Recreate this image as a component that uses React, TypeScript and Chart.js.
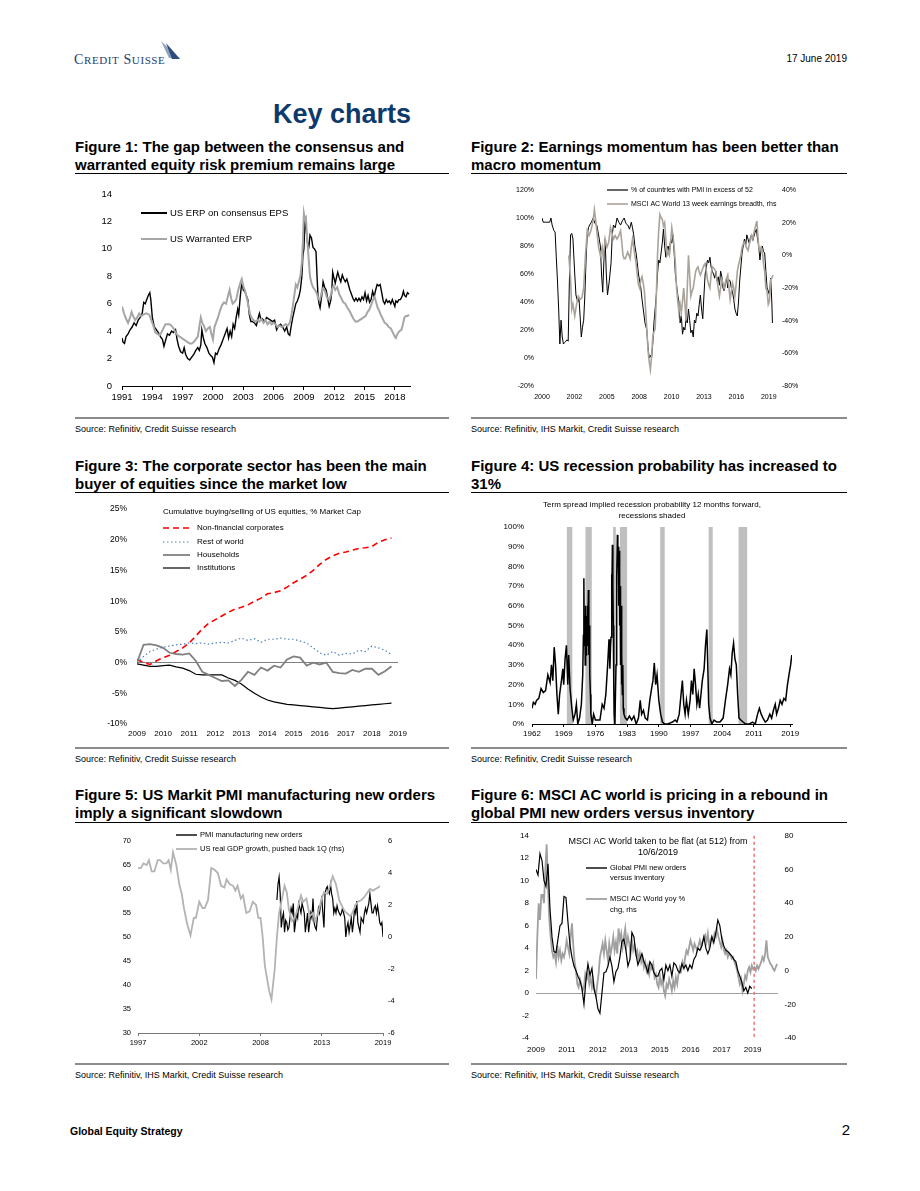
import React, { useEffect, useRef } from "react";
import { Chart, registerables } from "chart.js";

Chart.register(...registerables);

const FONT = "'Liberation Sans', Arial, Helvetica, sans-serif";
type Pt = [number, number];

// ---------------- Figure 1 ----------------
const fig1TickValues = [1991, 1994, 1997, 2000, 2003, 2006, 2009, 2012, 2015, 2018];
const fig1TickLabels = ["1991", "1994", "1997", "2000", "2003", "2006", "2009", "2012", "2015", "2018"];
const fig1Consensus: Pt[] = [
  [1991.0, 3.5], [1991.1, 3.2], [1991.25, 3.1], [1991.4, 3.6], [1991.6, 3.8], [1991.8, 4.1], [1992.0, 4.3], [1992.2, 4.6], [1992.4, 4.4], [1992.6, 4.8], [1992.8, 5.0], [1993.0, 5.3], [1993.15, 6.1], [1993.3, 6.0], [1993.45, 6.3], [1993.6, 6.6], [1993.75, 6.8], [1993.85, 6.3], [1994.0, 5.0], [1994.2, 4.3], [1994.4, 4.1], [1994.6, 3.9], [1994.8, 3.6], [1995.0, 3.4], [1995.15, 2.9], [1995.3, 3.3], [1995.5, 3.8], [1995.7, 3.7], [1995.9, 4.0], [1996.1, 3.9], [1996.3, 4.1], [1996.45, 3.4], [1996.6, 2.9], [1996.8, 2.5], [1997.0, 2.4], [1997.15, 2.8], [1997.3, 2.3], [1997.5, 2.0], [1997.7, 1.9], [1997.9, 2.1], [1998.1, 2.3], [1998.3, 2.6], [1998.5, 2.8], [1998.65, 2.6], [1998.8, 3.0], [1998.9, 4.1], [1999.05, 3.5], [1999.2, 3.1], [1999.4, 2.8], [1999.6, 2.4], [1999.8, 2.2], [1999.95, 2.1], [2000.1, 1.7], [2000.25, 2.4], [2000.4, 2.3], [2000.6, 2.7], [2000.8, 3.0], [2001.0, 3.4], [2001.2, 3.8], [2001.4, 4.2], [2001.55, 3.5], [2001.7, 4.0], [2001.85, 3.6], [2002.0, 4.5], [2002.15, 4.2], [2002.3, 5.0], [2002.45, 5.6], [2002.55, 5.2], [2002.7, 6.5], [2002.8, 7.2], [2002.9, 7.5], [2003.0, 7.0], [2003.15, 6.9], [2003.3, 6.6], [2003.45, 6.3], [2003.6, 5.2], [2003.75, 4.7], [2003.9, 4.7], [2004.1, 4.6], [2004.3, 4.4], [2004.45, 4.9], [2004.6, 5.3], [2004.75, 4.8], [2004.9, 4.9], [2005.1, 4.7], [2005.3, 5.0], [2005.5, 4.9], [2005.7, 4.8], [2005.9, 4.7], [2006.1, 4.8], [2006.3, 4.1], [2006.5, 4.4], [2006.7, 4.5], [2006.9, 4.3], [2007.1, 4.0], [2007.3, 4.3], [2007.45, 3.8], [2007.6, 3.7], [2007.75, 4.4], [2007.9, 5.0], [2008.05, 5.5], [2008.2, 6.0], [2008.35, 6.2], [2008.5, 6.5], [2008.65, 7.0], [2008.8, 8.0], [2008.9, 9.5], [2009.0, 10.0], [2009.1, 11.9], [2009.2, 11.6], [2009.35, 10.5], [2009.5, 10.2], [2009.6, 11.0], [2009.75, 10.8], [2009.9, 10.1], [2010.05, 10.0], [2010.2, 9.8], [2010.3, 8.0], [2010.4, 6.5], [2010.5, 6.0], [2010.6, 5.7], [2010.75, 6.5], [2010.9, 7.6], [2011.05, 7.2], [2011.2, 7.0], [2011.35, 6.4], [2011.5, 5.8], [2011.65, 6.2], [2011.75, 6.8], [2011.85, 8.3], [2012.0, 7.8], [2012.1, 7.5], [2012.25, 8.0], [2012.35, 8.3], [2012.5, 7.9], [2012.65, 7.6], [2012.8, 8.1], [2012.95, 7.8], [2013.1, 7.6], [2013.25, 7.8], [2013.4, 7.4], [2013.55, 7.0], [2013.7, 6.7], [2013.85, 6.4], [2014.0, 6.2], [2014.15, 6.4], [2014.3, 6.2], [2014.45, 6.4], [2014.6, 6.2], [2014.75, 6.5], [2014.9, 6.3], [2015.05, 6.8], [2015.2, 6.2], [2015.35, 6.6], [2015.5, 6.1], [2015.65, 6.3], [2015.8, 6.9], [2015.95, 6.5], [2016.1, 7.0], [2016.25, 7.4], [2016.4, 7.3], [2016.55, 7.4], [2016.7, 6.8], [2016.85, 6.2], [2017.0, 6.0], [2017.15, 6.3], [2017.3, 6.1], [2017.45, 6.2], [2017.6, 6.0], [2017.75, 6.3], [2017.9, 6.0], [2018.0, 5.8], [2018.1, 6.2], [2018.25, 6.1], [2018.4, 6.3], [2018.55, 6.3], [2018.7, 6.5], [2018.85, 6.9], [2018.95, 6.6], [2019.1, 6.5], [2019.25, 6.8], [2019.4, 6.7],
];
const fig1Warranted: Pt[] = [
  [1991.0, 5.8], [1991.2, 5.3], [1991.4, 4.9], [1991.6, 4.6], [1991.8, 5.0], [1991.95, 5.4], [1992.1, 5.1], [1992.3, 4.8], [1992.5, 5.0], [1992.7, 5.3], [1992.9, 5.1], [1993.1, 5.2], [1993.4, 5.3], [1993.7, 5.2], [1993.9, 4.8], [1994.1, 4.4], [1994.3, 3.9], [1994.5, 3.8], [1994.7, 3.7], [1994.9, 3.9], [1995.1, 4.2], [1995.3, 4.5], [1995.5, 4.5], [1995.7, 4.5], [1995.9, 4.4], [1996.1, 4.2], [1996.3, 3.9], [1996.5, 3.7], [1996.7, 3.6], [1996.9, 3.5], [1997.1, 3.4], [1997.3, 3.3], [1997.5, 3.2], [1997.7, 3.1], [1997.9, 3.1], [1998.1, 3.2], [1998.3, 3.4], [1998.5, 3.6], [1998.65, 4.3], [1998.8, 5.0], [1998.95, 4.6], [1999.1, 4.4], [1999.3, 4.0], [1999.5, 4.2], [1999.7, 4.3], [1999.85, 3.8], [2000.0, 3.4], [2000.15, 4.3], [2000.3, 4.6], [2000.5, 5.0], [2000.7, 5.5], [2000.9, 5.9], [2001.1, 6.1], [2001.3, 6.0], [2001.5, 6.6], [2001.65, 7.0], [2001.8, 6.4], [2001.95, 6.0], [2002.1, 6.1], [2002.3, 6.3], [2002.5, 7.0], [2002.7, 7.5], [2002.85, 7.8], [2003.0, 7.3], [2003.15, 7.0], [2003.3, 6.6], [2003.5, 5.9], [2003.65, 5.3], [2003.8, 5.0], [2004.0, 4.8], [2004.2, 4.7], [2004.4, 4.8], [2004.6, 4.7], [2004.8, 4.9], [2005.0, 4.6], [2005.2, 4.8], [2005.4, 4.5], [2005.6, 4.7], [2005.8, 4.5], [2006.0, 4.6], [2006.2, 4.5], [2006.4, 4.3], [2006.6, 4.4], [2006.8, 4.3], [2007.0, 4.4], [2007.2, 4.5], [2007.4, 4.4], [2007.6, 4.6], [2007.75, 5.1], [2007.9, 5.8], [2008.05, 6.6], [2008.2, 7.4], [2008.35, 7.2], [2008.5, 7.6], [2008.65, 8.0], [2008.8, 9.0], [2008.9, 10.5], [2009.0, 12.6], [2009.1, 12.2], [2009.2, 12.3], [2009.3, 11.0], [2009.45, 9.5], [2009.6, 8.0], [2009.75, 7.5], [2009.9, 7.2], [2010.1, 7.0], [2010.3, 6.7], [2010.45, 6.3], [2010.6, 6.3], [2010.75, 6.8], [2010.9, 7.1], [2011.1, 6.9], [2011.3, 6.4], [2011.5, 6.3], [2011.65, 6.6], [2011.8, 7.1], [2011.95, 7.3], [2012.1, 7.0], [2012.3, 7.2], [2012.5, 6.7], [2012.7, 6.4], [2012.9, 6.1], [2013.1, 6.0], [2013.3, 5.7], [2013.5, 5.5], [2013.7, 5.2], [2013.9, 4.9], [2014.1, 4.7], [2014.3, 4.7], [2014.5, 4.8], [2014.7, 4.9], [2014.9, 5.0], [2015.1, 5.1], [2015.3, 5.4], [2015.5, 5.6], [2015.7, 6.0], [2015.85, 6.3], [2016.0, 6.5], [2016.15, 6.1], [2016.3, 5.7], [2016.45, 5.5], [2016.6, 5.2], [2016.8, 4.9], [2017.0, 4.6], [2017.2, 4.5], [2017.4, 4.3], [2017.6, 4.2], [2017.8, 3.9], [2018.0, 3.6], [2018.1, 3.5], [2018.25, 3.8], [2018.45, 4.0], [2018.65, 4.1], [2018.8, 4.5], [2018.95, 5.0], [2019.1, 5.1], [2019.25, 5.1], [2019.4, 5.2],
];

// ---------------- Figure 2 ----------------
const fig2TickValues = [2000, 2002.72, 2005.44, 2008.16, 2010.88, 2013.6, 2016.32, 2019.04];
const fig2TickLabels = ["2000", "2002", "2005", "2008", "2010", "2013", "2016", "2019"];
const fig2PmiShare: Pt[] = [
  [2000.0, 100], [2000.1, 97], [2000.3, 97], [2000.5, 97], [2000.65, 97], [2000.75, 100], [2000.85, 95], [2001.0, 91], [2001.1, 90], [2001.2, 72], [2001.3, 55], [2001.4, 35], [2001.5, 10], [2001.6, 27], [2001.7, 15], [2001.8, 10], [2001.9, 11], [2002.0, 12], [2002.1, 13], [2002.2, 12], [2002.3, 55], [2002.4, 88], [2002.5, 89], [2002.6, 85], [2002.75, 60], [2002.85, 45], [2003.0, 40], [2003.1, 43], [2003.2, 30], [2003.3, 15], [2003.4, 22], [2003.5, 27], [2003.6, 45], [2003.7, 70], [2003.8, 88], [2003.9, 93], [2004.0, 95], [2004.15, 97], [2004.3, 100], [2004.45, 96], [2004.6, 95], [2004.75, 88], [2004.9, 80], [2005.0, 60], [2005.1, 47], [2005.2, 70], [2005.3, 85], [2005.4, 60], [2005.5, 45], [2005.65, 55], [2005.8, 68], [2005.9, 88], [2006.0, 95], [2006.15, 93], [2006.3, 100], [2006.45, 97], [2006.6, 95], [2006.75, 98], [2006.9, 100], [2007.05, 96], [2007.2, 95], [2007.35, 92], [2007.5, 97], [2007.6, 93], [2007.7, 88], [2007.8, 80], [2007.9, 75], [2008.0, 68], [2008.1, 60], [2008.2, 55], [2008.3, 50], [2008.4, 42], [2008.5, 35], [2008.65, 25], [2008.8, 20], [2008.9, 8], [2009.0, 0], [2009.1, 2], [2009.2, 0], [2009.3, 10], [2009.4, 25], [2009.5, 35], [2009.6, 45], [2009.7, 60], [2009.8, 70], [2009.9, 68], [2010.0, 75], [2010.1, 82], [2010.2, 92], [2010.3, 80], [2010.4, 72], [2010.5, 78], [2010.6, 80], [2010.7, 75], [2010.8, 85], [2010.9, 82], [2011.0, 88], [2011.1, 75], [2011.2, 60], [2011.3, 52], [2011.4, 45], [2011.5, 40], [2011.6, 25], [2011.7, 30], [2011.8, 17], [2011.9, 22], [2012.0, 20], [2012.1, 28], [2012.2, 25], [2012.3, 35], [2012.4, 27], [2012.5, 18], [2012.6, 20], [2012.7, 15], [2012.8, 27], [2012.9, 25], [2013.0, 32], [2013.1, 30], [2013.2, 38], [2013.3, 45], [2013.4, 35], [2013.5, 28], [2013.6, 45], [2013.7, 60], [2013.8, 65], [2013.9, 70], [2014.0, 68], [2014.1, 72], [2014.2, 65], [2014.3, 62], [2014.4, 60], [2014.5, 57], [2014.6, 62], [2014.7, 55], [2014.8, 58], [2014.9, 52], [2015.0, 62], [2015.1, 58], [2015.2, 50], [2015.3, 48], [2015.4, 53], [2015.5, 57], [2015.6, 50], [2015.7, 56], [2015.8, 55], [2015.9, 50], [2016.0, 47], [2016.1, 42], [2016.2, 35], [2016.3, 32], [2016.4, 30], [2016.5, 40], [2016.6, 55], [2016.7, 65], [2016.8, 75], [2016.9, 80], [2017.0, 85], [2017.1, 80], [2017.2, 88], [2017.3, 85], [2017.4, 82], [2017.5, 86], [2017.6, 88], [2017.7, 84], [2017.8, 87], [2017.9, 90], [2018.0, 92], [2018.1, 85], [2018.2, 80], [2018.3, 70], [2018.4, 78], [2018.5, 80], [2018.6, 76], [2018.7, 75], [2018.8, 62], [2018.9, 50], [2019.0, 48], [2019.1, 45], [2019.2, 57], [2019.3, 40], [2019.35, 25],
];
const fig2Breadth: Pt[] = [
  [2002.25, 0], [2002.4, -15], [2002.5, -33], [2002.6, -30], [2002.75, -37], [2002.9, -30], [2003.05, -25], [2003.2, -27], [2003.35, -26], [2003.5, -20], [2003.65, 0], [2003.8, 15], [2003.95, 12], [2004.1, 15], [2004.2, 18], [2004.3, 22], [2004.4, 28], [2004.5, 22], [2004.6, 15], [2004.75, 5], [2004.9, 0], [2005.05, 5], [2005.15, -2], [2005.3, 10], [2005.45, 5], [2005.6, 8], [2005.75, 17], [2005.9, 13], [2006.0, 10], [2006.15, 12], [2006.3, 10], [2006.45, 12], [2006.6, 15], [2006.7, 8], [2006.8, 0], [2006.9, -2], [2007.0, -2], [2007.1, 0], [2007.2, 2], [2007.3, 0], [2007.4, -2], [2007.5, 5], [2007.6, 10], [2007.7, 5], [2007.8, 0], [2007.9, -5], [2008.0, -12], [2008.1, -18], [2008.2, -20], [2008.3, -15], [2008.4, -13], [2008.5, -17], [2008.6, -22], [2008.7, -33], [2008.8, -45], [2008.9, -58], [2009.0, -65], [2009.1, -70], [2009.2, -62], [2009.3, -50], [2009.4, -47], [2009.5, -45], [2009.6, -25], [2009.7, 0], [2009.8, 15], [2009.9, 25], [2010.0, 23], [2010.1, 22], [2010.2, 18], [2010.3, 20], [2010.4, 10], [2010.5, 0], [2010.6, 2], [2010.7, 0], [2010.8, 8], [2010.9, 17], [2011.0, 12], [2011.1, 5], [2011.2, -5], [2011.3, -20], [2011.4, -28], [2011.5, -35], [2011.6, -30], [2011.7, -35], [2011.8, -28], [2011.9, -20], [2012.0, -30], [2012.1, -40], [2012.2, -20], [2012.3, 0], [2012.4, -12], [2012.5, -25], [2012.6, -22], [2012.7, -20], [2012.8, -15], [2012.9, -10], [2013.0, -8], [2013.1, -7], [2013.2, -10], [2013.3, -12], [2013.4, -10], [2013.5, -8], [2013.6, -6], [2013.7, -5], [2013.8, -10], [2013.9, -15], [2014.0, -18], [2014.1, -20], [2014.2, -12], [2014.3, -7], [2014.45, -8], [2014.6, -10], [2014.75, -18], [2014.9, -25], [2015.0, -20], [2015.1, -15], [2015.2, -17], [2015.3, -20], [2015.45, -15], [2015.6, -12], [2015.7, -20], [2015.8, -27], [2015.9, -22], [2016.0, -17], [2016.1, -20], [2016.2, -25], [2016.3, -18], [2016.4, -10], [2016.5, -6], [2016.6, -3], [2016.7, 0], [2016.8, 5], [2016.9, 7], [2017.0, 8], [2017.15, 5], [2017.3, 3], [2017.45, 8], [2017.6, 12], [2017.7, 10], [2017.8, 14], [2017.9, 17], [2018.0, 20], [2018.05, 21], [2018.1, 15], [2018.2, 5], [2018.3, 3], [2018.4, 5], [2018.5, 3], [2018.6, -5], [2018.7, -10], [2018.8, -20], [2018.9, -22], [2019.0, -30], [2019.1, -28], [2019.2, -15], [2019.3, -14], [2019.4, -12],
];

// ---------------- Figure 3 (quarterly from 2009 Q1) ----------------
const fig3Start = 2009;
const fig3TickValues = [2009, 2010, 2011, 2012, 2013, 2014, 2015, 2016, 2017, 2018, 2019];
const fig3TickLabels = ["2009", "2010", "2011", "2012", "2013", "2014", "2015", "2016", "2017", "2018", "2019"];
const fig3Corporates = [0.5, 0, -0.3, 0.3, 0.8, 1.2, 1.8, 2.4, 3.2, 4.3, 5.5, 6.4, 7.0, 7.6, 8.2, 8.7, 9.0, 9.4, 10.0, 10.5, 11.2, 11.4, 11.7, 12.3, 13.0, 13.6, 14.2, 15.0, 16.0, 16.8, 17.4, 17.8, 18.0, 18.3, 18.6, 18.7, 18.9, 19.6, 20.0, 20.3];
const fig3RestOfWorld = [0, 1.0, 1.8, 2.2, 2.5, 2.7, 2.9, 3.0, 3.2, 3.1, 3.2, 3.0, 3.2, 3.3, 3.2, 3.6, 4.0, 3.6, 3.9, 3.3, 3.8, 3.8, 4.0, 3.8, 3.8, 3.5, 3.2, 2.4, 1.6, 1.2, 1.8, 1.2, 1.5, 1.4, 2.0, 1.8, 2.7, 2.4, 2.0, 1.3];
const fig3Households = [0, 2.9, 3.0, 2.8, 2.4, 1.6, 1.4, 1.3, 1.5, 0.3, -1.5, -2.0, -2.5, -3.0, -2.9, -3.8, -2.8, -1.5, -2.0, -0.8, -1.3, -0.5, -0.8, 0.5, 1.0, 0.8, -0.5, 0, -0.3, 0, -1.5, -1.7, -1.8, -1.2, -1.5, -1.0, -1.0, -2.0, -1.4, -0.6];
const fig3Institutions = [-0.2, -0.4, -0.6, -0.6, -0.5, -0.4, -0.7, -0.9, -1.3, -1.9, -2.0, -2.0, -2.0, -2.0, -2.5, -2.9, -3.5, -4.3, -5.0, -5.6, -6.1, -6.4, -6.6, -6.8, -6.9, -7.0, -7.1, -7.2, -7.3, -7.4, -7.5, -7.4, -7.3, -7.2, -7.1, -7.0, -6.9, -6.8, -6.7, -6.6];

// ---------------- Figure 4 ----------------
const fig4TickValues = [1962, 1969, 1976, 1983, 1990, 1997, 2004, 2011, 2019];
const fig4TickLabels = ["1962", "1969", "1976", "1983", "1990", "1997", "2004", "2011", "2019"];
const fig4Recessions: Pt[] = [[1969.7, 1970.9], [1973.8, 1975.2], [1979.9, 1980.5], [1981.4, 1983.0], [1990.3, 1991.3], [2001.0, 2001.9], [2007.6, 2009.5]];
const fig4Probability: Pt[] = [
  [1962.0, 8], [1962.3, 11], [1962.7, 10], [1963.0, 12], [1963.5, 13], [1964.0, 18], [1964.5, 16], [1965.0, 17], [1965.5, 25], [1966.0, 21], [1966.3, 30], [1966.6, 22], [1966.9, 39], [1967.2, 30], [1967.5, 15], [1967.8, 5], [1968.1, 15], [1968.5, 22], [1968.8, 28], [1969.0, 20], [1969.3, 33], [1969.6, 40], [1969.9, 20], [1970.1, 35], [1970.4, 18], [1970.8, 8], [1971.1, 2], [1971.5, 5], [1971.8, 10], [1972.1, 0], [1972.5, 3], [1972.9, 10], [1973.2, 25], [1973.35, 45], [1973.45, 74], [1973.55, 40], [1973.65, 55], [1973.75, 30], [1973.85, 60], [1973.95, 35], [1974.05, 55], [1974.15, 40], [1974.25, 60], [1974.35, 45], [1974.45, 68], [1974.55, 35], [1974.65, 50], [1974.75, 25], [1974.9, 15], [1975.0, 5], [1975.3, 0], [1975.6, 5], [1976.0, 2], [1976.5, 2], [1977.0, 2], [1977.5, 10], [1977.9, 8], [1978.3, 15], [1978.7, 30], [1979.0, 43], [1979.2, 28], [1979.35, 40], [1979.45, 44], [1979.55, 76], [1979.65, 60], [1979.75, 91], [1979.85, 70], [1979.95, 50], [1980.05, 20], [1980.15, 5], [1980.3, 0], [1980.55, 30], [1980.65, 60], [1980.75, 75], [1980.85, 96], [1980.95, 80], [1981.05, 90], [1981.15, 60], [1981.25, 88], [1981.35, 50], [1981.45, 70], [1981.55, 30], [1981.65, 60], [1981.75, 20], [1981.85, 35], [1981.95, 15], [1982.05, 30], [1982.15, 8], [1982.3, 5], [1982.6, 3], [1983.0, 2], [1983.5, 4], [1984.0, 2], [1984.5, 4], [1985.0, 0], [1985.5, 3], [1985.9, 12], [1986.2, 5], [1986.6, 7], [1987.0, 3], [1987.5, 2], [1988.0, 12], [1988.4, 18], [1988.7, 22], [1989.0, 31], [1989.3, 20], [1989.6, 25], [1990.0, 12], [1990.4, 5], [1990.8, 1], [1991.3, 0], [1992.0, 0], [1993.0, 1], [1993.6, 2], [1994.0, 1], [1994.5, 5], [1994.9, 15], [1995.2, 22], [1995.5, 10], [1995.8, 5], [1996.1, 12], [1996.5, 5], [1996.9, 12], [1997.2, 22], [1997.5, 15], [1997.8, 28], [1998.1, 20], [1998.4, 10], [1998.7, 15], [1999.0, 8], [1999.3, 15], [1999.6, 22], [2000.0, 28], [2000.3, 40], [2000.6, 48], [2000.8, 30], [2001.0, 10], [2001.3, 3], [2001.7, 0], [2002.2, 2], [2002.8, 1], [2003.5, 1], [2004.2, 3], [2004.7, 12], [2005.2, 20], [2005.6, 28], [2005.9, 25], [2006.2, 36], [2006.5, 41], [2006.8, 33], [2007.1, 30], [2007.4, 15], [2007.7, 3], [2008.1, 2], [2008.6, 1], [2009.2, 0], [2010.0, 0], [2010.7, 1], [2011.3, 0], [2011.8, 5], [2012.2, 8], [2012.6, 5], [2013.0, 3], [2013.5, 1], [2014.0, 2], [2014.5, 5], [2014.9, 3], [2015.3, 7], [2015.7, 10], [2016.0, 5], [2016.4, 8], [2016.8, 12], [2017.2, 10], [2017.6, 13], [2018.0, 12], [2018.4, 20], [2018.8, 26], [2019.1, 30], [2019.35, 35],
];

// ---------------- Figure 5 ----------------
const fig5TickValues = [1997, 2002.6, 2008.2, 2013.8, 2019.4];
const fig5TickLabels = ["1997", "2002", "2008", "2013", "2019"];
const fig5Gdp: Pt[] = [
  [1997.0, 4.3], [1997.25, 4.3], [1997.5, 4.6], [1997.8, 4.5], [1998.0, 4.8], [1998.25, 4.1], [1998.5, 4.1], [1998.8, 4.8], [1999.0, 4.8], [1999.3, 4.6], [1999.6, 4.6], [1999.8, 4.8], [2000.0, 4.2], [2000.2, 5.3], [2000.5, 4.5], [2000.8, 3.2], [2001.0, 2.7], [2001.2, 1.8], [2001.5, 0.8], [2001.8, 0.1], [2002.1, 1.2], [2002.3, 1.2], [2002.6, 2.2], [2002.9, 1.8], [2003.1, 1.8], [2003.4, 2.3], [2003.7, 4.3], [2004.0, 4.2], [2004.3, 4.0], [2004.6, 3.2], [2004.9, 3.1], [2005.1, 3.6], [2005.4, 3.3], [2005.7, 3.2], [2005.9, 2.9], [2006.1, 3.2], [2006.4, 2.4], [2006.6, 2.6], [2006.9, 1.5], [2007.2, 1.6], [2007.5, 2.2], [2007.8, 2.0], [2008.0, 1.2], [2008.2, 1.2], [2008.4, 0], [2008.6, -1.8], [2008.8, -2.6], [2009.0, -3.4], [2009.2, -3.9], [2009.5, -2.0], [2009.7, 0], [2009.9, 1.5], [2010.2, 2.5], [2010.4, 3.2], [2010.6, 2.8], [2010.8, 1.7], [2011.1, 1.0], [2011.4, 1.3], [2011.6, 1.8], [2011.9, 2.6], [2012.1, 2.2], [2012.4, 2.4], [2012.7, 1.3], [2013.0, 1.5], [2013.2, 1.0], [2013.5, 1.6], [2013.8, 2.4], [2014.0, 2.8], [2014.3, 2.7], [2014.6, 3.3], [2014.8, 3.8], [2015.1, 3.3], [2015.4, 2.3], [2015.6, 2.0], [2015.9, 1.6], [2016.1, 1.5], [2016.4, 1.3], [2016.6, 1.5], [2016.9, 2.0], [2017.1, 2.2], [2017.4, 2.3], [2017.7, 2.5], [2017.9, 2.7], [2018.2, 3.0], [2018.5, 2.9], [2018.7, 3.0], [2019.0, 3.1], [2019.1, 3.2],
];
const fig5PmiNewOrders: Pt[] = [
  [2009.7, 57.7], [2009.8, 61], [2009.9, 62.5], [2010.0, 59], [2010.1, 52], [2010.2, 54], [2010.3, 55], [2010.4, 51], [2010.5, 53.5], [2010.6, 53], [2010.7, 51.5], [2010.8, 52], [2010.9, 54], [2011.0, 56], [2011.1, 55], [2011.2, 57], [2011.3, 51], [2011.4, 53], [2011.5, 55], [2011.6, 54], [2011.7, 57], [2011.8, 56], [2011.9, 55], [2012.0, 57], [2012.1, 56], [2012.2, 55], [2012.3, 51], [2012.4, 53], [2012.5, 55], [2012.6, 51], [2012.7, 53], [2012.8, 55], [2012.9, 54], [2013.0, 58], [2013.1, 53], [2013.2, 52], [2013.3, 51.5], [2013.4, 54], [2013.5, 56], [2013.6, 55], [2013.7, 57], [2013.8, 58], [2013.9, 55], [2014.0, 52], [2014.1, 59], [2014.2, 60], [2014.3, 60.5], [2014.4, 59.5], [2014.5, 59], [2014.6, 61], [2014.7, 59], [2014.8, 58], [2014.9, 55], [2015.0, 56], [2015.1, 55], [2015.2, 56.5], [2015.3, 55.5], [2015.4, 55], [2015.5, 54.5], [2015.6, 55], [2015.7, 56], [2015.8, 55], [2015.9, 54], [2016.0, 50], [2016.1, 52], [2016.2, 53], [2016.3, 51], [2016.4, 52.5], [2016.5, 54], [2016.6, 51], [2016.7, 53], [2016.8, 56], [2016.9, 55], [2017.0, 57.5], [2017.1, 53], [2017.2, 52], [2017.3, 51], [2017.4, 54], [2017.5, 53.5], [2017.6, 53], [2017.7, 55], [2017.8, 56], [2017.9, 55], [2018.0, 56], [2018.1, 57], [2018.2, 59], [2018.3, 57], [2018.4, 55], [2018.5, 55], [2018.6, 56], [2018.7, 56.5], [2018.8, 55], [2018.9, 56.5], [2019.0, 55], [2019.1, 53], [2019.2, 52.5], [2019.3, 53], [2019.4, 50],
];

// ---------------- Figure 6 ----------------
const fig6Start = 2009.75;
const fig6MsciStep = 0.05917; // ~3 weeks
const fig6PmiStep = 0.08876; // ~4.6 weeks
const fig6FlatFrom = 2019.44; // 10/6/2019
const fig6TickValues = [2009.75, 2011.125, 2012.5, 2013.875, 2015.25, 2016.625, 2018.0, 2019.375];
const fig6TickLabels = ["2009", "2011", "2012", "2013", "2015", "2016", "2017", "2019"];
const fig6PmiGap = [11.0, 10.5, 12.4, 11.8, 10.0, 9.5, 11.5, 7.5, 5.0, 3.7, 3.6, 4.8, 6.0, 6.2, 8.6, 8.5, 6.3, 4.3, 3.2, 2.4, 2.0, 1.5, 1.1, 0.4, -1.0, 1.2, 2.6, 1.6, 2.2, 0.4, -0.3, -1.4, -1.8, 0, 1.8, 1.9, 2.4, 3.2, 2.4, 1.0, 1.9, 2.2, 3.2, 4.6, 4.8, 3.8, 2.4, 3.0, 5.4, 5.0, 3.5, 2.5, 3.0, 3.5, 2.8, 2.4, 1.8, 2.8, 2.5, 1.8, 1.5, 1.5, 2.0, 2.2, 1.2, 2.5, 2.0, 2.5, 1.5, 2.7, 2.5, 2.0, 1.8, 2.6, 2.2, 2.5, 2.0, 2.5, 2.2, 3.0, 3.3, 4.0, 3.8, 4.2, 5.0, 4.0, 3.5, 4.0, 5.0, 4.5, 5.4, 6.5, 6.0, 4.8, 4.2, 3.8, 3.7, 3.5, 3.3, 3.0, 2.8, 2.0, 1.5, 1.0, 0.2, 0.5, 0, 0.6, 0.4];
const fig6MsciYoy = [-5, 20, 40, 30, 45, 45, 40, 60, 75, 50, 30, 20, 12, 8, 10, 5, 15, 8, 12, 6, 10, 8, 12, 18, 14, 10, 20, 28, 15, 5, 0, -8, -10, -5, -8, -12, -10, -2, -5, -2, -8, -4, -10, -6, -12, -15, -8, -2, 8, 12, 16, 10, 18, 12, 6, 16, 10, 14, 20, 12, 17, 10, 25, 18, 22, 14, 20, 25, 15, 20, 16, 10, 18, 12, 15, 10, 12, 6, 10, 5, 8, 2, 5, 0, 3, -2, 3, 1, 4, -4, -2, -8, -10, -3, -8, -5, -12, -15, -8, -10, -5, -8, -12, -6, -10, -4, -8, -2, 2, 0, 5, 2, 8, 12, 10, 14, 18, 15, 12, 16, 14, 12, 15, 18, 14, 17, 19, 21, 17, 22, 15, 18, 20, 17, 22, 20, 24, 20, 17, 14, 18, 12, 10, 12, 8, 10, 9, 7, 8, 5, 3, 0, -4, -8, -5, -12, -8, -3, -5, 0, 2, -1, 3, 1, 2, 0, 3, 1, 3, 5, 8, 6, 10, 18, 8, 6, 4, 3, 1, 0, 2, 4];

// ---------------- helpers ----------------
type Rect = { x: number; y: number; w: number; h: number };
type Deco =
  | { kind: "line"; x1: number; x2: number; y: number; color: string; width: number; dash?: number[] }
  | { kind: "text"; x: number; y: number; text: string; size: number; align?: CanvasTextAlign };

function decoPlugin(box: Rect, items: Deco[]) {
  return {
    id: "deco",
    afterDraw(chart: any) {
      const ctx = chart.ctx;
      ctx.save();
      for (const it of items) {
        if (it.kind === "line") {
          ctx.beginPath();
          ctx.strokeStyle = it.color;
          ctx.lineWidth = it.width;
          ctx.setLineDash(it.dash || []);
          ctx.moveTo(it.x1 - box.x, it.y - box.y);
          ctx.lineTo(it.x2 - box.x, it.y - box.y);
          ctx.stroke();
        } else {
          ctx.setLineDash([]);
          ctx.fillStyle = "#000";
          ctx.font = `${it.size}px ${FONT}`;
          ctx.textAlign = it.align || "left";
          ctx.textBaseline = "middle";
          ctx.fillText(it.text, it.x - box.x, it.y - box.y);
        }
      }
      ctx.restore();
    },
  };
}

function xAxis(o: { min: number; max: number; ticks: number[]; labels: string[]; size: number; pad: number; height: number; border?: string; tickLen?: number }) {
  return {
    type: "linear",
    position: "bottom",
    min: o.min,
    max: o.max,
    afterBuildTicks: (s: any) => {
      s.ticks = o.ticks.map((v) => ({ value: v }));
    },
    afterFit: (s: any) => {
      s.height = o.height;
    },
    ticks: {
      autoSkip: false,
      maxRotation: 0,
      minRotation: 0,
      padding: o.pad,
      color: "#000",
      font: { size: o.size, family: FONT },
      callback: (_v: any, i: number) => o.labels[i],
    },
    grid: {
      display: !!o.tickLen,
      drawOnChartArea: false,
      drawTicks: !!o.tickLen,
      tickLength: o.tickLen || 0,
      color: o.border || "#000",
      lineWidth: 1,
    },
    border: { display: !!o.border, color: o.border || "#000", width: 1 },
  };
}

function yAxis(o: { position: "left" | "right"; min: number; max: number; step: number; size: number; pad: number; width: number; suffix?: string; zeroColor?: string }) {
  return {
    type: "linear",
    position: o.position,
    min: o.min,
    max: o.max,
    afterFit: (s: any) => {
      s.width = o.width;
    },
    ticks: {
      stepSize: o.step,
      padding: o.pad,
      color: "#000",
      font: { size: o.size, family: FONT },
      callback: (v: any) => `${v}${o.suffix || ""}`,
    },
    grid: {
      display: !!o.zeroColor,
      drawTicks: false,
      drawOnChartArea: true,
      lineWidth: 1,
      color: (c: any) => (c.tick && c.tick.value === 0 ? o.zeroColor : "rgba(0,0,0,0)"),
    },
    border: { display: false },
  };
}

function series(pts: { x: number; y: number }[], color: string, width: number, yAxisID = "y", dash?: number[]) {
  return {
    data: pts,
    borderColor: color,
    borderWidth: width,
    borderDash: dash || [],
    pointRadius: 0,
    tension: 0,
    fill: false,
    yAxisID,
  };
}

const pairs = (p: Pt[]) => p.map(([x, y]) => ({ x, y }));
const stepped = (start: number, step: number, v: number[]) => v.map((y, i) => ({ x: start + i * step, y }));

function baseOptions(box: Rect, padTop: number, padRight: number, scales: any) {
  return {
    responsive: false,
    maintainAspectRatio: false,
    animation: false,
    devicePixelRatio: 1,
    events: [],
    layout: { padding: { top: padTop, right: padRight, left: 0, bottom: 0 } },
    plugins: { legend: { display: false }, tooltip: { enabled: false }, title: { display: false } },
    scales,
  };
}

// ---------------- chart configs ----------------
const BOX1: Rect = { x: 75, y: 176, w: 374, h: 236 };
const BOX2: Rect = { x: 471, y: 176, w: 376, h: 236 };
const BOX3: Rect = { x: 75, y: 494, w: 374, h: 250 };
const BOX4: Rect = { x: 471, y: 494, w: 376, h: 250 };
const BOX5: Rect = { x: 75, y: 824, w: 374, h: 236 };
const BOX6: Rect = { x: 471, y: 824, w: 376, h: 236 };

function config1() {
  const b = BOX1;
  return {
    type: "line",
    data: {
      datasets: [
        series(pairs(fig1Warranted), "#a6a6a6", 2),
        series(pairs(fig1Consensus), "#000", 1.4),
      ],
    },
    options: baseOptions(b, 194 - b.y, b.x + b.w - 410, {
      x: xAxis({ min: 1991, max: 2019.5, ticks: fig1TickValues, labels: fig1TickLabels, size: 9.5, pad: 2, height: b.y + b.h - 386, border: "#000", tickLen: 4 }),
      y: yAxis({ position: "left", min: 0, max: 14, step: 2, size: 9.5, pad: 10, width: 122 - b.x }),
    }),
    plugins: [
      decoPlugin(b, [
        { kind: "line", x1: 141, x2: 167, y: 213, color: "#000", width: 2 },
        { kind: "text", x: 170, y: 213, text: "US ERP on consensus EPS", size: 9.5 },
        { kind: "line", x1: 141, x2: 167, y: 239, color: "#a6a6a6", width: 2 },
        { kind: "text", x: 170, y: 239, text: "US Warranted ERP", size: 9.5 },
      ]),
    ],
  };
}

function config2() {
  const b = BOX2;
  return {
    type: "line",
    data: {
      datasets: [
        series(pairs(fig2Breadth), "#aaa39b", 1.6, "y2"),
        series(pairs(fig2PmiShare), "#000", 1),
      ],
    },
    options: baseOptions(b, 190 - b.y, 0, {
      x: xAxis({ min: 2000, max: 2019.65, ticks: fig2TickValues, labels: fig2TickLabels, size: 7, pad: 7, height: b.y + b.h - 386 }),
      y: yAxis({ position: "left", min: -20, max: 120, step: 20, size: 7, pad: 8, width: 542 - b.x, suffix: "%" }),
      y2: yAxis({ position: "right", min: -80, max: 40, step: 20, size: 7, pad: 6, width: b.x + b.w - 776, suffix: "%" }),
    }),
    plugins: [
      decoPlugin(b, [
        { kind: "line", x1: 607, x2: 628, y: 190, color: "#000", width: 1.2 },
        { kind: "text", x: 631, y: 190, text: "% of countries with PMI in excess of 52", size: 7 },
        { kind: "line", x1: 607, x2: 628, y: 204, color: "#aaa39b", width: 1.6 },
        { kind: "text", x: 631, y: 204, text: "MSCI AC World 13 week earnings breadth, rhs", size: 7 },
      ]),
    ],
  };
}

function config3() {
  const b = BOX3;
  return {
    type: "line",
    data: {
      datasets: [
        series(stepped(fig3Start, 0.25, fig3RestOfWorld), "#4f81bd", 1.2, "y", [1.5, 2.5]),
        series(stepped(fig3Start, 0.25, fig3Households), "#808080", 1.8),
        series(stepped(fig3Start, 0.25, fig3Institutions), "#000", 1.2),
        series(stepped(fig3Start, 0.25, fig3Corporates), "#ff0000", 1.6, "y", [6, 4]),
      ],
    },
    options: baseOptions(b, 508 - b.y, b.x + b.w - 398, {
      x: xAxis({ min: 2009, max: 2019, ticks: fig3TickValues, labels: fig3TickLabels, size: 8, pad: 5, height: b.y + b.h - 724 }),
      y: yAxis({ position: "left", min: -10, max: 25, step: 5, size: 8.5, pad: 10, width: 137 - b.x, suffix: "%", zeroColor: "#808080" }),
    }),
    plugins: [
      decoPlugin(b, [
        { kind: "text", x: 163, y: 512, text: "Cumulative buying/selling of US equities, % Market Cap", size: 8 },
        { kind: "line", x1: 163, x2: 190, y: 528, color: "#ff0000", width: 1.6, dash: [6, 4] },
        { kind: "text", x: 197, y: 528, text: "Non-financial corporates", size: 8 },
        { kind: "line", x1: 163, x2: 190, y: 542, color: "#4f81bd", width: 1.2, dash: [1.5, 2.5] },
        { kind: "text", x: 197, y: 542, text: "Rest of world", size: 8 },
        { kind: "line", x1: 163, x2: 190, y: 555, color: "#808080", width: 1.8 },
        { kind: "text", x: 197, y: 555, text: "Households", size: 8 },
        { kind: "line", x1: 163, x2: 190, y: 568, color: "#000", width: 1.2 },
        { kind: "text", x: 197, y: 568, text: "Institutions", size: 8 },
      ]),
    ],
  };
}

function config4() {
  const b = BOX4;
  const shading = {
    id: "recessions",
    beforeDatasetsDraw(chart: any) {
      const { ctx, chartArea, scales } = chart;
      ctx.save();
      ctx.fillStyle = "#bfbfbf";
      for (const [s, e] of fig4Recessions) {
        const x1 = scales.x.getPixelForValue(s);
        const x2 = scales.x.getPixelForValue(e);
        ctx.fillRect(x1, chartArea.top, x2 - x1, chartArea.bottom - chartArea.top);
      }
      ctx.restore();
    },
  };
  return {
    type: "line",
    data: { datasets: [series(pairs(fig4Probability), "#000", 1.5)] },
    options: baseOptions(b, 527 - b.y, b.x + b.w - 792, {
      x: xAxis({ min: 1962, max: 2019.4, ticks: fig4TickValues, labels: fig4TickLabels, size: 8, pad: 2, height: b.y + b.h - 724, border: "#000", tickLen: 3 }),
      y: yAxis({ position: "left", min: 0, max: 100, step: 10, size: 8, pad: 8, width: 532 - b.x, suffix: "%" }),
    }),
    plugins: [
      shading,
      decoPlugin(b, [
        { kind: "text", x: 652, y: 505, text: "Term spread implied recession probability 12 months forward,", size: 8, align: "center" },
        { kind: "text", x: 652, y: 516, text: "recessions shaded", size: 8, align: "center" },
      ]),
    ],
  };
}

function config5() {
  const b = BOX5;
  return {
    type: "line",
    data: {
      datasets: [
        series(pairs(fig5Gdp), "#b3b3b3", 1.8, "y2"),
        series(pairs(fig5PmiNewOrders), "#000", 1.2),
      ],
    },
    options: baseOptions(b, 841 - b.y, 0, {
      x: xAxis({ min: 1997, max: 2019.4, ticks: fig5TickValues, labels: fig5TickLabels, size: 7.5, pad: 2.5, height: b.y + b.h - 1033, border: "#777", tickLen: 3 }),
      y: yAxis({ position: "left", min: 30, max: 70, step: 5, size: 7.5, pad: 7, width: 138 - b.x }),
      y2: yAxis({ position: "right", min: -6, max: 6, step: 2, size: 7.5, pad: 5, width: b.x + b.w - 383 }),
    }),
    plugins: [
      decoPlugin(b, [
        { kind: "line", x1: 176, x2: 197, y: 835, color: "#000", width: 1.4 },
        { kind: "text", x: 200, y: 835, text: "PMI manufacturing new orders", size: 7.5 },
        { kind: "line", x1: 176, x2: 197, y: 849, color: "#b3b3b3", width: 1.8 },
        { kind: "text", x: 200, y: 849, text: "US real GDP growth, pushed back 1Q (rhs)", size: 7.5 },
      ]),
    ],
  };
}

function config6() {
  const b = BOX6;
  const marker = {
    id: "flatLine",
    afterDatasetsDraw(chart: any) {
      const { ctx, chartArea, scales } = chart;
      const x = scales.x.getPixelForValue(fig6FlatFrom);
      ctx.save();
      ctx.strokeStyle = "#f07070";
      ctx.lineWidth = 1.5;
      ctx.setLineDash([3, 3]);
      ctx.beginPath();
      ctx.moveTo(x, chartArea.top);
      ctx.lineTo(x, chartArea.bottom);
      ctx.stroke();
      ctx.restore();
    },
  };
  return {
    type: "line",
    data: {
      datasets: [
        series(stepped(fig6Start, fig6PmiStep, fig6PmiGap), "#000", 1.2),
        series(stepped(fig6Start, fig6MsciStep, fig6MsciYoy), "#a0a0a0", 1.8, "y2"),
      ],
    },
    options: baseOptions(b, 833 - b.y, 0, {
      x: xAxis({ min: 2009.75, max: 2020.5, ticks: fig6TickValues, labels: fig6TickLabels, size: 8, pad: 7, height: b.y + b.h - 1038 }),
      y: yAxis({ position: "left", min: -4, max: 14, step: 2, size: 8, pad: 7, width: 536 - b.x, zeroColor: "#a0a0a0" }),
      y2: yAxis({ position: "right", min: -40, max: 80, step: 20, size: 8, pad: 6.5, width: b.x + b.w - 778 }),
    }),
    plugins: [
      marker,
      decoPlugin(b, [
        { kind: "text", x: 658, y: 842, text: "MSCI AC World taken to be flat (at 512) from", size: 9, align: "center" },
        { kind: "text", x: 658, y: 853, text: "10/6/2019", size: 9, align: "center" },
        { kind: "line", x1: 586, x2: 607, y: 868, color: "#000", width: 1.4 },
        { kind: "text", x: 610, y: 868, text: "Global PMI new orders", size: 7.5 },
        { kind: "text", x: 610, y: 878, text: "versus inventory", size: 7.5 },
        { kind: "line", x1: 586, x2: 607, y: 899, color: "#a0a0a0", width: 1.8 },
        { kind: "text", x: 610, y: 899, text: "MSCI AC World yoy %", size: 7.5 },
        { kind: "text", x: 610, y: 910, text: "chg, rhs", size: 7.5 },
      ]),
    ],
  };
}

// ---------------- components ----------------
function ChartBox({ box, make }: { box: Rect; make: () => any }) {
  const ref = useRef<HTMLCanvasElement>(null);
  useEffect(() => {
    const chart = new Chart(ref.current as HTMLCanvasElement, make());
    return () => chart.destroy();
  }, []);
  return (
    <div style={{ position: "absolute", left: box.x, top: box.y, width: box.w, height: box.h }}>
      <canvas ref={ref} width={box.w} height={box.h} style={{ width: box.w, height: box.h, display: "block" }} />
    </div>
  );
}

function Panel({ x, width, titleTop, ruleY, srcRuleY, srcTextY, lines, source }: { x: number; width: number; titleTop: number; ruleY: number; srcRuleY: number; srcTextY: number; lines: string[]; source: string }) {
  return (
    <>
      <div style={{ position: "absolute", left: x, top: titleTop, width: width + 10, fontFamily: FONT, fontWeight: 700, fontSize: 15, lineHeight: "18px", color: "#000", whiteSpace: "nowrap" }}>
        {lines[0]}
        <br />
        {lines[1]}
      </div>
      <div style={{ position: "absolute", left: x, top: ruleY, width, height: 1, background: "#000" }} />
      <div style={{ position: "absolute", left: x, top: srcRuleY - 1, width, height: 2, background: "#8c8c8c" }} />
      <div style={{ position: "absolute", left: x, top: srcTextY - 6, fontFamily: FONT, fontSize: 9, lineHeight: "12px", color: "#000", whiteSpace: "nowrap" }}>{source}</div>
    </>
  );
}

export default function App() {
  const L = 75;
  const R = 471;
  const WL = 374;
  const WR = 376;
  return (
    <div style={{ position: "absolute", left: 0, top: 0, width: 920, height: 1191, background: "#fff", overflow: "hidden", fontFamily: FONT }}>
      {/* logo */}
      <div style={{ position: "absolute", left: 74, top: 51, fontFamily: "'Liberation Serif', 'DejaVu Serif', serif", color: "#1f3d70", letterSpacing: 0.6, whiteSpace: "nowrap", lineHeight: "16px" }}>
        <span style={{ fontSize: 14 }}>C</span>
        <span style={{ fontSize: 11 }}>REDIT</span>
        <span style={{ fontSize: 14 }}> S</span>
        <span style={{ fontSize: 11 }}>UISSE</span>
      </div>
      <svg style={{ position: "absolute", left: 160, top: 41 }} width={24} height={20} viewBox="0 0 24 20">
        <polygon points="1,0 9,17 20,18" fill="#8ea3bd" />
        <polygon points="6,2 20,18 12,18" fill="#2c4c7c" />
      </svg>
      <div style={{ position: "absolute", right: 73, top: 53, fontSize: 10, lineHeight: "12px", color: "#000" }}>17 June 2019</div>
      <div style={{ position: "absolute", left: 273, top: 98, fontSize: 27, fontWeight: 700, lineHeight: "32px", color: "#0e3a6b", whiteSpace: "nowrap" }}>Key charts</div>

      <Panel x={L} width={WL} titleTop={138} ruleY={173} srcRuleY={418} srcTextY={429} lines={["Figure 1: The gap between the consensus and", "warranted equity risk premium remains large"]} source="Source: Refinitiv, Credit Suisse research" />
      <Panel x={R} width={WR} titleTop={138} ruleY={173} srcRuleY={418} srcTextY={429} lines={["Figure 2: Earnings momentum has been better than", "macro momentum"]} source="Source: Refinitiv, IHS Markit, Credit Suisse research" />
      <Panel x={L} width={WL} titleTop={457} ruleY={492} srcRuleY={748} srcTextY={759} lines={["Figure 3: The corporate sector has been the main", "buyer of equities since the market low"]} source="Source: Refinitiv, Credit Suisse research" />
      <Panel x={R} width={WR} titleTop={457} ruleY={492} srcRuleY={748} srcTextY={759} lines={["Figure 4: US recession probability has increased to", "31%"]} source="Source: Refinitiv, Credit Suisse research" />
      <Panel x={L} width={WL} titleTop={786} ruleY={822} srcRuleY={1064} srcTextY={1075} lines={["Figure 5: US Markit PMI manufacturing new orders", "imply a significant slowdown"]} source="Source: Refinitiv, IHS Markit, Credit Suisse research" />
      <Panel x={R} width={WR} titleTop={786} ruleY={822} srcRuleY={1064} srcTextY={1075} lines={["Figure 6: MSCI AC world is pricing in a rebound in", "global PMI new orders versus inventory"]} source="Source: Refinitiv, IHS Markit, Credit Suisse research" />

      <ChartBox box={BOX1} make={config1} />
      <ChartBox box={BOX2} make={config2} />
      <ChartBox box={BOX3} make={config3} />
      <ChartBox box={BOX4} make={config4} />
      <ChartBox box={BOX5} make={config5} />
      <ChartBox box={BOX6} make={config6} />

      <div style={{ position: "absolute", left: 70, top: 1124, fontSize: 10.5, fontWeight: 700, lineHeight: "14px", whiteSpace: "nowrap" }}>Global Equity Strategy</div>
      <div style={{ position: "absolute", right: 70, top: 1120, fontSize: 15, lineHeight: "20px" }}>2</div>
    </div>
  );
}
